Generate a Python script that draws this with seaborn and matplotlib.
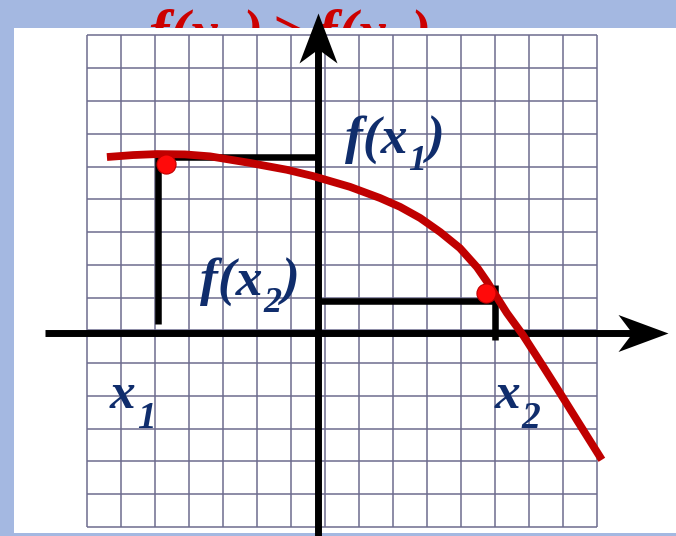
import matplotlib
matplotlib.use("Agg")
import matplotlib.pyplot as plt
from matplotlib.patches import Rectangle
from matplotlib.path import Path
from matplotlib.transforms import offset_copy
import seaborn as sns

# ---- data (grid units: one grid cell = 1) ----
grid_ticks = list(range(16))

curve_x = [0.60, 1.37, 2.07, 2.89, 3.63, 4.80, 5.89, 6.65, 7.74, 8.62, 9.21, 9.80,
           10.39, 10.97, 11.47, 11.77, 12.35, 12.82, 13.41, 13.91, 14.50, 15.14]
curve_y = [11.29, 11.35, 11.38, 11.37, 11.31, 11.11, 10.90, 10.71, 10.38, 10.04, 9.77, 9.43,
           9.00, 8.51, 7.93, 7.48, 6.53, 5.86, 4.91, 4.09, 3.11, 2.05]

point_x = [2.33, 11.74]
point_y = [11.08, 7.15]

origin_x = 6.80      # position of the vertical axis
origin_y = 5.935     # position of the horizontal axis
x1 = 2.10
fx1 = 11.29
x2 = 12.00
fx2 = 6.90

xaxis_span = [-1.22, 16.30]
xaxis_tip = 17.08
yaxis_span = [-0.6, 14.90]
yaxis_tip = 15.685

x1_drop = [6.195, 11.29]
x2_drop = [5.706, 7.385]

# label pieces: (main, subscript, closing)
label_fx1 = ("f(x", "1", ")")
label_fx2 = ("f(x", "2", ")")
label_x1 = ("x", "1", "")
label_x2 = ("x", "2", "")
title_text = "$f(x_1) > f(x_2)$"

# ---- style ----
sns.set_style("white")
plt.rcParams["mathtext.fontset"] = "custom"
for k in ("mathtext.rm", "mathtext.it", "mathtext.bf", "mathtext.sf", "mathtext.cal"):
    plt.rcParams[k] = "Liberation Serif:bold:italic"
plt.rcParams["font.family"] = ["Liberation Serif", "DejaVu Serif"]

W, H = 676, 536
fig = plt.figure(figsize=(W / 100, H / 100), dpi=100)
fig.patch.set_facecolor("#a4b8e1")

# title (partly hidden behind the white sheet)
fig.text(148 / W, 1 - 52 / H, title_text, color="#cc0000", fontsize=44,
         ha="left", va="baseline", zorder=1)
fig.add_artist(Rectangle((14 / W, 3 / H), 662 / W, 505 / H, transform=fig.transFigure,
                         facecolor="white", edgecolor="none", zorder=2))

ax = fig.add_axes([0, 0, 1, 1], zorder=5)
ax.patch.set_alpha(0)
ax.set_xlim(-86.5 / 34.04, (W - 86.5) / 34.04)
ax.set_ylim((527 - H) / 32.77, 527 / 32.77)
ax.axis("off")

# grid
gcol = "#6e6c8e"
ax.vlines(grid_ticks, 0, 15, color=gcol, lw=1.1, zorder=1)
ax.hlines(grid_ticks, 0, 15, color=gcol, lw=1.1, zorder=1)

# axes lines
ax.plot(xaxis_span, [origin_y, origin_y], color="black", lw=5.0, solid_capstyle="butt", zorder=3)
ax.plot([origin_x, origin_x], yaxis_span, color="black", lw=5.0, solid_capstyle="butt", zorder=3)

up_head = Path([(0, 0), (19, -50), (0, -36), (-19, -50), (0, 0)],
               [Path.MOVETO, Path.LINETO, Path.LINETO, Path.LINETO, Path.CLOSEPOLY])
right_head = Path([(0, 0), (-50, 18.5), (-36, 0), (-50, -18.5), (0, 0)],
                  [Path.MOVETO, Path.LINETO, Path.LINETO, Path.LINETO, Path.CLOSEPOLY])
ax.plot([origin_x], [yaxis_tip], marker=up_head, ms=72, color="black", mew=0, zorder=3)
ax.plot([xaxis_tip], [origin_y], marker=right_head, ms=72, color="black", mew=0, zorder=3)

# drop lines
ax.plot([x1, x1, origin_x], [x1_drop[0], fx1, fx1], color="black", lw=4.7,
        solid_joinstyle="miter", solid_capstyle="butt", zorder=3)
ax.plot([origin_x, x2], [fx2, fx2], color="black", lw=4.7, solid_capstyle="butt", zorder=3)
ax.plot([x2, x2], x2_drop, color="black", lw=4.7, solid_capstyle="butt", zorder=3)

# curve and points
sns.lineplot(x=curve_x, y=curve_y, sort=False, color="#c00000", lw=5.6,
             ax=ax, zorder=4, solid_capstyle="butt", solid_joinstyle="round")
sns.scatterplot(x=point_x, y=point_y, color="#ff0a0a", s=190, edgecolor="#c00000",
                linewidth=0.8, ax=ax, zorder=6)

# labels built from pieces so the subscript can sit low, as in the reference
renderer = fig.canvas.get_renderer()
lc = "#102d6c"
kw = dict(color=lc, fontfamily="Liberation Serif", fontweight="bold", fontstyle="italic",
          ha="left", va="baseline", zorder=7)


def sub_label(x, y, pieces, size, sub_size, drop, gap=0.0):
    main, sub, tail = pieces
    t = ax.text(x, y, main, fontsize=size, **kw)
    w = t.get_window_extent(renderer).width
    s = ax.text(x, y, sub, fontsize=sub_size,
                transform=offset_copy(ax.transData, fig, x=w + gap, y=-drop, units="dots"), **kw)
    w2 = s.get_window_extent(renderer).width
    if tail:
        ax.text(x, y, tail, fontsize=size,
                transform=offset_copy(ax.transData, fig, x=w + gap + w2, y=0, units="dots"), **kw)


sub_label(7.594, 11.41, label_fx1, 38.5, 26, 17, gap=1)
sub_label(3.334, 7.08, label_fx2, 38.5, 26, 17, gap=1)
sub_label(0.69, 3.63, label_x1, 37, 27, 20, gap=1)
sub_label(12.0, 3.63, label_x2, 37, 27, 20, gap=1)

fig.savefig("out.png", dpi=100, facecolor=fig.get_facecolor())
